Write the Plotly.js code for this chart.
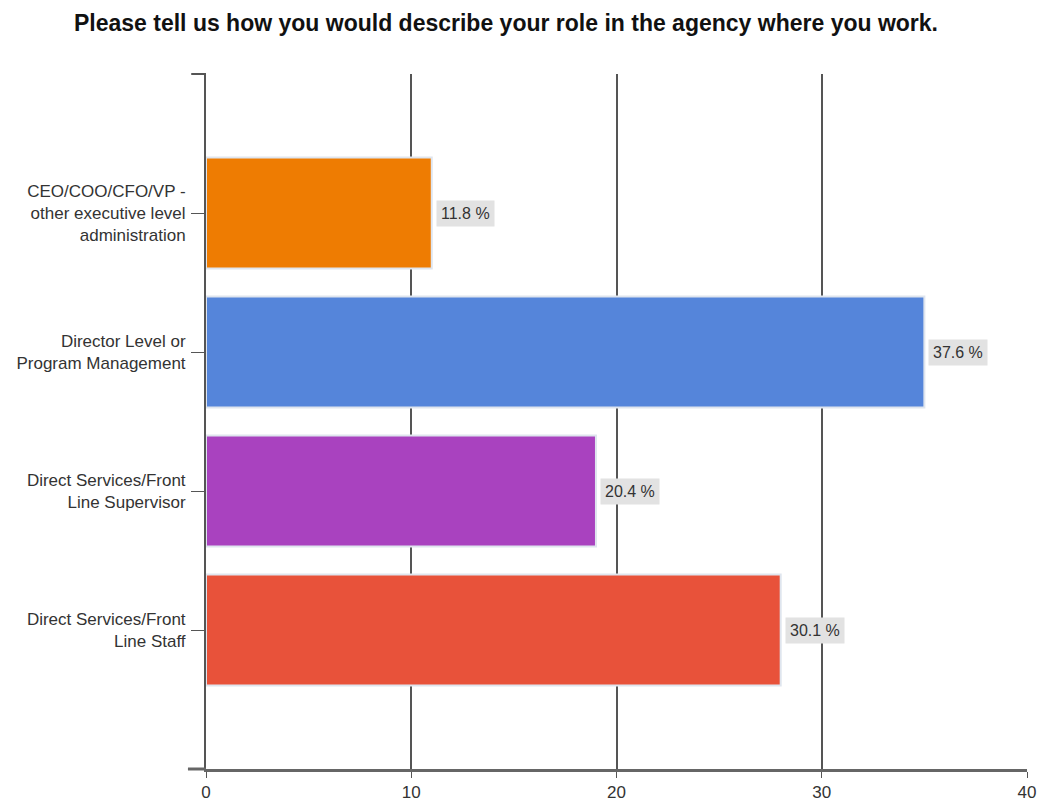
<!DOCTYPE html>
<html><head><meta charset="utf-8">
<script src="https://cdn.plot.ly/plotly-3.0.1.min.js"></script>
<style>html,body{margin:0;padding:0;background:#fff}</style>
</head><body>
<div id="chart" style="width:1039px;height:802px"></div>
<script>
var categories = ["CEO/COO/CFO/VP -<br>other executive level<br>administration",
                  "Director Level or<br>Program Management",
                  "Direct Services/Front<br>Line Supervisor",
                  "Direct Services/Front<br>Line Staff"];
var counts = [11, 35, 19, 28];
var percents = [11.8, 37.6, 20.4, 30.1];
var colors = ["#ee7c02", "#5585da", "#a942bf", "#e8523a"];
var xTicks = [0, 10, 20, 30, 40];

var trace = {
  type: "bar", orientation: "h",
  y: categories, x: counts,
  marker: {color: colors, line: {color: "#dfe5ee", width: 2}},
  width: 0.8, hoverinfo: "none"
};

var annotations = categories.map(function(c, i){
  return {x: counts[i], y: c, xref: "x", yref: "y", text: percents[i].toFixed(1) + " %",
    showarrow: false, xanchor: "left", yanchor: "middle", xshift: 4,
    bgcolor: "#e2e2e2", borderpad: 4,
    font: {family: "Liberation Sans, Arial, sans-serif", size: 16, color: "#333"}};
});

var layout = {
  width: 1039, height: 802,
  margin: {l: 206, r: 12, t: 74, b: 33},
  paper_bgcolor: "#fff", plot_bgcolor: "#fff",
  title: {text: "<b>Please tell us how you would describe your role in the agency where you work.</b>",
    x: 0.487, xanchor: "center", y: 0.972, yanchor: "middle",
    font: {family: "Liberation Sans, Arial, sans-serif", size: 23, color: "#111"}},
  showlegend: false,
  xaxis: {range: [0, 40], tickvals: xTicks, ticktext: xTicks.map(String),
    showgrid: true, gridcolor: "#555", gridwidth: 2,
    zeroline: false, showline: true, linecolor: "#666", linewidth: 3,
    ticks: "outside", ticklen: 6, tickcolor: "#555",
    tickfont: {family: "Liberation Sans, Arial, sans-serif", size: 17, color: "#333"}},
  yaxis: {type: "category", categoryorder: "array", categoryarray: categories,
    range: [4, -1], showgrid: false, zeroline: false,
    showline: true, linecolor: "#555", linewidth: 2,
    ticks: "outside", ticklen: 13, tickcolor: "#555", ticklabelstandoff: 2,
    tickfont: {family: "Liberation Sans, Arial, sans-serif", size: 17, color: "#333"}},
  shapes: [
    {type: "line", xref: "paper", yref: "paper", x0: -0.022, x1: 0, y0: 0, y1: 0,
     line: {color: "#666", width: 3}},
    {type: "line", xref: "paper", yref: "paper", x0: -0.018, x1: 0, y0: 1, y1: 1,
     line: {color: "#555", width: 2}}
  ],
  annotations: annotations
};

Plotly.newPlot("chart", [trace], layout, {displayModeBar: false, staticPlot: true});
</script>
</body></html>
